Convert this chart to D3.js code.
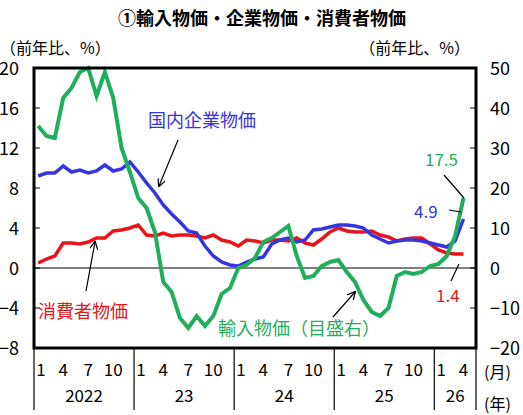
<!DOCTYPE html>
<html><head><meta charset="utf-8">
<script src="https://cdn.jsdelivr.net/npm/d3@7"></script>
<style>
body{margin:0;background:#fff;}
text{font-family:"Noto Sans CJK JP","Noto Sans",sans-serif;}
</style></head>
<body><svg id="chart" width="523" height="415"></svg>
<script>
// monthly, Jan 2022 .. Apr 2026
const cpi = [0.5,0.9,1.2,2.5,2.5,2.4,2.6,3.0,3.0,3.7,3.8,4.0,
  4.3,3.3,3.2,3.5,3.2,3.3,3.3,3.2,3.0,3.3,2.8,2.6,
  2.2,2.8,2.7,2.5,2.8,2.8,2.7,3.0,2.5,2.3,2.9,3.6,
  4.0,3.7,3.6,3.6,3.7,3.3,3.1,2.7,2.9,3.0,3.0,2.4,
  1.8,1.5,1.4,1.4];
const cgpi = [9.2,9.5,9.5,10.2,9.6,9.8,9.5,9.7,10.3,9.7,9.9,10.6,
  9.6,8.5,7.5,6.3,5.4,4.6,3.7,3.5,2.2,1.2,0.6,0.3,
  0.2,0.6,0.9,1.1,2.4,2.8,3.0,2.6,2.8,3.8,3.9,4.1,
  4.3,4.3,4.2,4.0,3.3,2.9,2.5,2.7,2.8,2.8,2.7,2.5,
  2.3,2.1,2.7,4.9];
const importPrices = [35.5,33,32.5,42.5,45,49,50,43,49,42.5,30,24,
  17.5,15,9,-3.5,-6,-12.5,-15,-12,-14.5,-12,-6.5,-5,
  0,0.8,2.5,6.5,7.5,9,10.5,3,-2.5,-2,0.5,1.5,
  2,-1,-3.5,-8,-11,-12,-10,-2,-1,-1.5,-1,0.5,
  1,3,8,17.5];
const leftTicks = [-8,-4,0,4,8,12,16,20];
const rightTicks = [-20,-10,0,10,20,30,40,50];
const yearLabels = ["2022","23","24","25","26"];
const monthLabels = [1,4,7,10];

const svg = d3.select("#chart");
const L = 34, R = 476, T = 68, B = 348;
const x = d3.scaleLinear().domain([0,53]).range([L,R]);
const yL = d3.scaleLinear().domain([-8,20]).range([B,T]);
const yR = d3.scaleLinear().domain([-20,50]).range([B,T]);
const mx = i => x(i+0.5);

svg.append("text").attr("x",262).attr("y",25).attr("text-anchor","middle")
  .attr("font-size",18).attr("font-weight","bold").text("①輸入物価・企業物価・消費者物価");
svg.append("text").attr("x",0).attr("y",54).attr("font-size",16).text("（前年比、%）");
svg.append("text").attr("x",470).attr("y",54).attr("text-anchor","end").attr("font-size",16).text("（前年比、%）");

// ticks
leftTicks.forEach(v=>{
  svg.append("text").attr("x",19).attr("y",yL(v)+7).attr("text-anchor","end").attr("font-size",18).text(v<0?"−"+(-v):v);
  svg.append("line").attr("x1",L).attr("x2",L+6).attr("y1",yL(v)).attr("y2",yL(v)).attr("stroke","#000");
});
rightTicks.forEach(v=>{
  svg.append("text").attr("x",490).attr("y",yR(v)+7).attr("font-size",18).text(v<0?"−"+(-v):v);
  svg.append("line").attr("x1",R-6).attr("x2",R).attr("y1",yR(v)).attr("y2",yR(v)).attr("stroke","#000");
});
svg.append("line").attr("x1",L).attr("x2",R).attr("y1",yL(0)).attr("y2",yL(0)).attr("stroke","#000").attr("stroke-width",1);

// x axis
yearLabels.forEach((yl,k)=>{
  const x0 = x(k*12);
  svg.append("line").attr("x1",x0).attr("x2",x0).attr("y1",B).attr("y2",410).attr("stroke","#000").attr("stroke-width",1.2);
  monthLabels.forEach(m=>{
    const idx = k*12+m-1;
    if (idx > 51) return;
    svg.append("text").attr("x",mx(idx)).attr("y",376).attr("text-anchor",m===1?"start":"middle")
      .attr("dx",m===1?-2:0).attr("font-size",17).text(m);
  });
  const end = Math.min(x((k+1)*12), R);
  svg.append("text").attr("x",(x0+end)/2).attr("y",402).attr("text-anchor","middle").attr("font-size",17).text(yl);
});
svg.append("line").attr("x1",R).attr("x2",R).attr("y1",B).attr("y2",410).attr("stroke","#000").attr("stroke-width",1.2);
svg.append("text").attr("x",484).attr("y",378).attr("font-size",16).text("(月)");
svg.append("text").attr("x",484).attr("y",410).attr("font-size",16).text("(年)");

// lines
const lineL = d3.line().x((d,i)=>mx(i)).y(d=>yL(d));
const lineR = d3.line().x((d,i)=>mx(i)).y(d=>yR(d));
svg.append("path").datum(cpi).attr("d",lineL).attr("fill","none").attr("stroke","#e8141c").attr("stroke-width",3.5);
svg.append("path").datum(cgpi).attr("d",lineL).attr("fill","none").attr("stroke","#3535e0").attr("stroke-width",3.5);
svg.append("path").datum(importPrices).attr("d",lineR).attr("fill","none").attr("stroke","#1fae5a").attr("stroke-width",4);

svg.append("rect").attr("x",L).attr("y",T).attr("width",R-L).attr("height",B-T)
  .attr("fill","none").attr("stroke","#000").attr("stroke-width",3);

// annotations
svg.append("defs").append("marker").attr("id","ah").attr("viewBox","0 -5 10 10").attr("refX",9)
  .attr("markerWidth",7).attr("markerHeight",7).attr("orient","auto")
  .append("path").attr("d","M0,-5L10,0L0,5").attr("fill","none").attr("stroke","#000").attr("stroke-width",1.5);
const arrow = (x1,y1,x2,y2,head=true)=>svg.append("line").attr("x1",x1).attr("y1",y1).attr("x2",x2).attr("y2",y2)
  .attr("stroke","#000").attr("stroke-width",1.2).attr("marker-end",head?"url(#ah)":null);
svg.append("text").attr("x",148).attr("y",127).attr("font-size",18).attr("fill","#3535e0").text("国内企業物価");
arrow(178,140,159,186);
svg.append("text").attr("x",38).attr("y",318).attr("font-size",18).attr("fill","#e8141c").text("消費者物価");
arrow(86,291,95,242);
svg.append("text").attr("x",218).attr("y",335).attr("font-size",18).attr("fill","#1fae5a").text("輸入物価（目盛右）");
arrow(333,317,355,292);
svg.append("text").attr("x",425).attr("y",166).attr("font-size",17).attr("fill","#1fae5a").text("17.5");
arrow(444,175,464,198,false);
svg.append("text").attr("x",414).attr("y",218).attr("font-size",17).attr("fill","#3535e0").text("4.9");
arrow(449,210,461,212,false);
svg.append("text").attr("x",436).attr("y",302).attr("font-size",17).attr("fill","#e8141c").text("1.4");
arrow(451,281,459,264,false);
</script></body></html>
